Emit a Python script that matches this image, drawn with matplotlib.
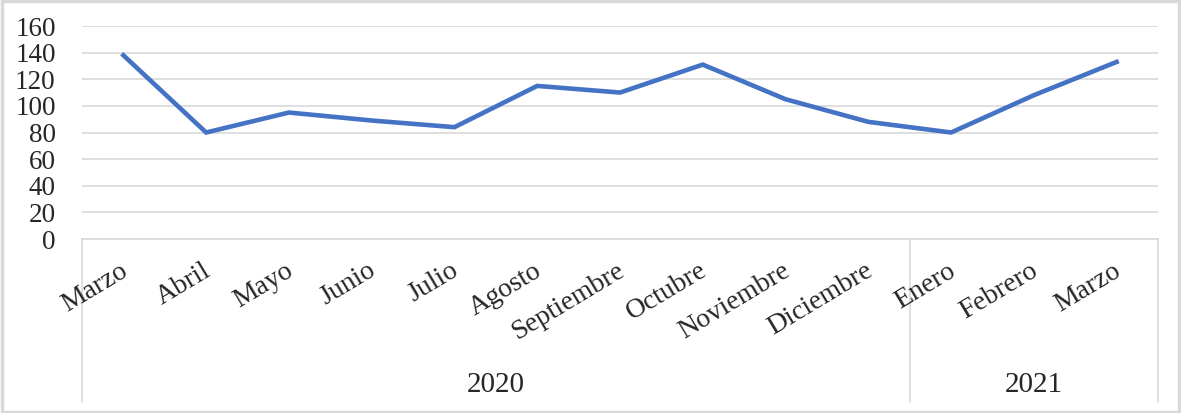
import matplotlib.pyplot as plt
import matplotlib.transforms as mtransforms
from matplotlib.patches import Rectangle

months = ["Marzo", "Abril", "Mayo", "Junio", "Julio", "Agosto", "Septiembre",
          "Octubre", "Noviembre", "Diciembre", "Enero", "Febrero", "Marzo"]
values = [138, 80, 95, 89, 84, 115, 110, 131, 105, 88, 80, 108, 133]
years = ["2020", "2021"]
year_counts = [10, 3]
y_ticks = [0, 20, 40, 60, 80, 100, 120, 140, 160]

plt.rcParams['font.family'] = ['Liberation Serif', 'DejaVu Serif']
W, H = 1181, 413
fig = plt.figure(figsize=(W / 100, H / 100), dpi=100)
grid_color = "#D9D9D9"
text_color = "#262626"

# outer frame
fig.patches.append(Rectangle((0.0015, 0.003), 0.997, 0.994, transform=fig.transFigure,
                             fill=False, edgecolor=grid_color, linewidth=2.5))

left, right, top, bottom = 82, 1158, 26, 239
ax = fig.add_axes([left / W, 1 - bottom / H, (right - left) / W, (bottom - top) / H])

x = list(range(len(months)))
ax.plot(x, values, color="#4472C4", linewidth=3.3, solid_joinstyle="miter", zorder=3)

ax.set_xlim(-0.5, len(months) - 0.5)
ax.set_ylim(0, 160)
ax.set_yticks(y_ticks)
ax.set_yticklabels([str(v) for v in y_ticks], fontsize=19.5, color=text_color)
ax.tick_params(axis="y", length=0, pad=19)
ax.set_xticks([])
ax.yaxis.grid(True, color=grid_color, linewidth=1.2)
ax.set_axisbelow(True)
for s in ["left", "right", "top"]:
    ax.spines[s].set_visible(False)
ax.spines["bottom"].set_color(grid_color)
ax.spines["bottom"].set_linewidth(1.2)

# multi-level category axis
trans = mtransforms.blended_transform_factory(ax.transData, ax.transAxes)
box_bottom = (bottom - 402) / (bottom - top)
for i, m in enumerate(months):
    ax.text(i - 0.05, -0.09, m, transform=trans, rotation=31, rotation_mode="anchor",
            ha="right", va="top", fontsize=20, color=text_color)

bounds = [-0.5]
for c in year_counts:
    bounds.append(bounds[-1] + c)
for b in bounds:
    ax.plot([b, b], [0, box_bottom], transform=trans, color=grid_color,
            linewidth=1.2, clip_on=False)
for yr, a, b in zip(years, bounds[:-1], bounds[1:]):
    ax.text((a + b) / 2, (bottom - 385) / (bottom - top), yr, transform=trans,
            ha="center", va="center", fontsize=21, color=text_color)

fig.savefig("out.png", dpi=100)
